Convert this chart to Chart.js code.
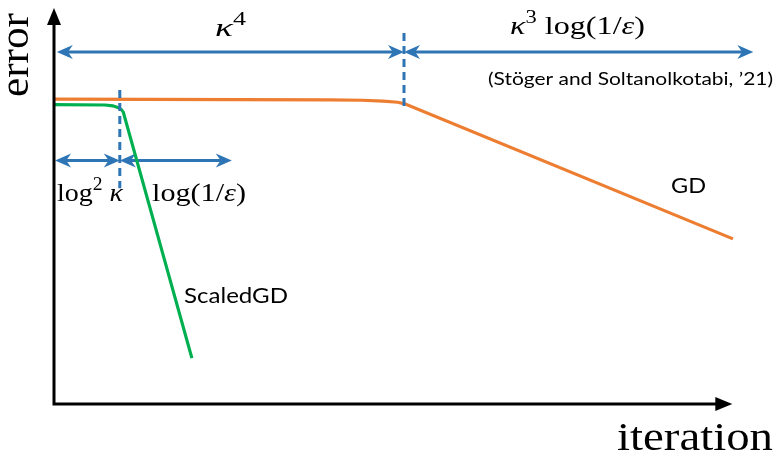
<!DOCTYPE html>
<html>
<head>
<meta charset="utf-8">
<script src="https://cdn.jsdelivr.net/npm/chart.js@4.4.0/dist/chart.umd.min.js"></script>
<style>
  html, body { margin: 0; padding: 0; background: #fff; }
  #wrap { width: 779px; height: 454px; position: relative; }
</style>
</head>
<body>
<div id="wrap"><canvas id="chart"></canvas></div>
<script>
// schematic curves (iteration vs error, arbitrary units 0..100)
const gdIter = [0, 39.4, 44.0, 47.0, 49.1, 50.1, 97.0];
const gdError = [77.0, 76.8, 76.7, 76.5, 76.2, 75.8, 41.7];
const sgdIter = [0, 7.3, 8.4, 9.1, 9.6, 9.9, 19.7];
const sgdError = [75.6, 75.5, 75.3, 74.9, 74.4, 73.7, 11.6];

// phase boundaries (iteration units)
const topSpans = [0.4, 50.0, 99.9];     // kappa^4 | kappa^3 log(1/eps)
const lowSpans = [0.15, 9.4, 25.4];     // log^2 kappa | log(1/eps)
const topArrowLevel = 88.9;
const lowArrowLevel = 61.5;
const dividers = [
  { x: 9.4, from: 79.3, to: 54.5 },
  { x: 50.0, from: 93.7, to: 74.7 }
];
const axisEnds = { x: 96.9, y: 100 };

const BLUE = '#2E75B6';
const ORANGE = '#ED7D31';
const GREEN = '#00B050';
const SERIF = '"Liberation Serif", "DejaVu Serif", serif';
const SANS = 'Lato, "Open Sans", sans-serif';

const toPts = (xs, ys) => xs.map((x, i) => ({ x: x, y: ys[i] }));

function arrowHead(ctx, x, y, dir, len, half) {
  // dir: +1 pointing right, -1 pointing left
  ctx.beginPath();
  ctx.moveTo(x, y);
  ctx.lineTo(x - dir * len, y - half);
  ctx.lineTo(x - dir * len * 0.7, y);
  ctx.lineTo(x - dir * len, y + half);
  ctx.closePath();
  ctx.fill();
}

function doubleArrow(ctx, x1, x2, y) {
  ctx.save();
  ctx.strokeStyle = BLUE;
  ctx.fillStyle = BLUE;
  ctx.lineWidth = 3;
  ctx.beginPath();
  ctx.moveTo(x1 + 6, y);
  ctx.lineTo(x2 - 6, y);
  ctx.stroke();
  arrowHead(ctx, x1, y, -1, 16, 7);
  arrowHead(ctx, x2, y, 1, 16, 7);
  ctx.restore();
}

// rich text: segments {t, it, sup}
function drawRich(ctx, segs, left, baseline, size, family, targetW) {
  const fontFor = s => (s.it ? 'italic ' : '') + (s.sup ? size * 0.7 : size) + 'px ' + family;
  let total = 0;
  const widths = segs.map(s => {
    ctx.font = fontFor(s);
    const w = ctx.measureText(s.t).width;
    total += w;
    return w;
  });
  const sx = targetW ? targetW / total : 1;
  ctx.save();
  ctx.translate(left, baseline);
  ctx.scale(sx, 1);
  ctx.fillStyle = '#000';
  ctx.textBaseline = 'alphabetic';
  ctx.textAlign = 'left';
  let cx = 0;
  segs.forEach((s, i) => {
    ctx.font = fontFor(s);
    ctx.fillText(s.t, cx, s.sup ? -size * 0.42 : 0);
    cx += widths[i];
  });
  ctx.restore();
}

const decor = {
  id: 'decor',
  beforeDatasetsDraw(chart) {
    const ctx = chart.ctx;
    const xs = chart.scales.x, ys = chart.scales.y;
    const px = v => xs.getPixelForValue(v);
    const py = v => ys.getPixelForValue(v);
    doubleArrow(ctx, px(topSpans[0]), px(topSpans[1]), py(topArrowLevel));
    doubleArrow(ctx, px(topSpans[1]), px(topSpans[2]), py(topArrowLevel));
    doubleArrow(ctx, px(lowSpans[0]), px(lowSpans[1]), py(lowArrowLevel));
    doubleArrow(ctx, px(lowSpans[1]), px(lowSpans[2]), py(lowArrowLevel));
  },
  afterDatasetsDraw(chart) {
    const ctx = chart.ctx;
    const xs = chart.scales.x, ys = chart.scales.y;
    const px = v => xs.getPixelForValue(v);
    const py = v => ys.getPixelForValue(v);

    // dashed phase dividers
    ctx.save();
    ctx.strokeStyle = BLUE;
    ctx.lineWidth = 3;
    ctx.setLineDash([8, 5]);
    dividers.forEach(d => {
      ctx.beginPath();
      ctx.moveTo(px(d.x), py(d.from));
      ctx.lineTo(px(d.x), py(d.to));
      ctx.stroke();
    });
    ctx.restore();

    // axes with arrow tips
    const ox = px(0), oy = py(0);
    const xEnd = px(axisEnds.x), yEnd = py(axisEnds.y);
    ctx.save();
    ctx.strokeStyle = '#000';
    ctx.fillStyle = '#000';
    ctx.lineWidth = 3;
    ctx.beginPath();
    ctx.moveTo(ox, yEnd + 10);
    ctx.lineTo(ox, oy);
    ctx.lineTo(xEnd - 10, oy);
    ctx.stroke();
    ctx.beginPath();
    ctx.moveTo(ox, yEnd);
    ctx.lineTo(ox - 7, yEnd + 17);
    ctx.lineTo(ox + 7, yEnd + 17);
    ctx.closePath();
    ctx.fill();
    ctx.beginPath();
    ctx.moveTo(xEnd, oy);
    ctx.lineTo(xEnd - 17, oy - 7);
    ctx.lineTo(xEnd - 17, oy + 7);
    ctx.closePath();
    ctx.fill();
    ctx.restore();

    // labels
    drawRich(ctx, [{ t: 'κ', it: 1 }, { t: '4', sup: 1 }], 215, 36, 26, SERIF, 31);
    drawRich(ctx, [{ t: 'κ', it: 1 }, { t: '3', sup: 1 }, { t: ' log(1/' }, { t: 'ε', it: 1 }, { t: ')' }], 510, 34, 26, SERIF, 135);
    drawRich(ctx, [{ t: 'log' }, { t: '2', sup: 1 }, { t: ' ' }, { t: 'κ', it: 1 }], 57, 201, 26, SERIF, 66);
    drawRich(ctx, [{ t: 'log(1/' }, { t: 'ε', it: 1 }, { t: ')' }], 152, 201, 26, SERIF, 94);
    drawRich(ctx, [{ t: 'iteration' }], 617, 450, 41, SERIF, 156);
    drawRich(ctx, [{ t: '(Stöger and Soltanolkotabi, \u201921)' }], 488, 85, 18, SANS, 285);
    drawRich(ctx, [{ t: 'ScaledGD' }], 184, 303, 21, SANS, 104);
    drawRich(ctx, [{ t: 'GD' }], 671, 193, 21, SANS, 35);

    ctx.save();
    ctx.translate(28, 97);
    ctx.rotate(-Math.PI / 2);
    drawRich(ctx, [{ t: 'error' }], 0, 0, 41, SERIF, 84);
    ctx.restore();
  }
};

new Chart(document.getElementById('chart'), {
  type: 'line',
  data: {
    datasets: [{
      label: 'GD',
      data: toPts(gdIter, gdError),
      borderColor: ORANGE,
      borderWidth: 3.2,
      pointRadius: 0,
      tension: 0
    }, {
      label: 'ScaledGD',
      data: toPts(sgdIter, sgdError),
      borderColor: GREEN,
      borderWidth: 3.2,
      pointRadius: 0,
      tension: 0
    }]
  },
  options: {
    responsive: true,
    maintainAspectRatio: false,
    animation: false,
    layout: { padding: { left: 54, right: 25, top: 8, bottom: 50 } },
    plugins: {
      legend: { display: false },
      tooltip: { enabled: false }
    },
    scales: {
      x: { type: 'linear', min: 0, max: 100, display: false },
      y: { type: 'linear', min: 0, max: 100, display: false }
    }
  },
  plugins: [decor]
});
</script>
</body>
</html>
